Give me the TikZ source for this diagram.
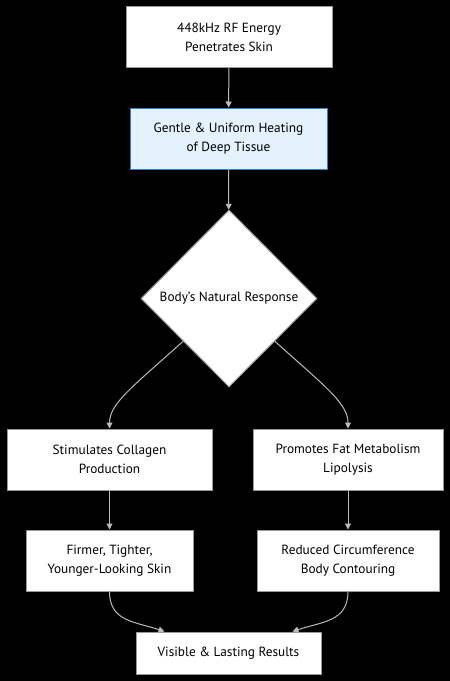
\documentclass[tikz,border=0pt]{standalone}
\usepackage{fontspec}
\setmainfont{PT Sans}
\usetikzlibrary{shapes.geometric,arrows.meta}
\definecolor{edge}{HTML}{BBBBBB}
\definecolor{boxline}{HTML}{999999}
\definecolor{bluefill}{HTML}{E3F2FD}
\definecolor{blueline}{HTML}{2F80D0}
\begin{document}
\begin{tikzpicture}[x=1pt,y=-1pt,
  every node/.style={font=\fontsize{13.3}{19}\selectfont, align=center, inner sep=0pt},
  box/.style={draw=boxline, fill=white, line width=1pt, minimum height=#1},
  box/.default=61,
  conn/.style={draw=edge, line width=1pt, -{Triangle[length=6pt,width=6pt]}}]
\fill[black] (0,0) rectangle (450,681);
\node[box, minimum width=206] (a) at (229,37) {448kHz RF Energy\\Penetrates Skin};
\node[box, fill=bluefill, draw=blueline, minimum width=197] (b) at (228.5,138.5) {Gentle \& Uniform Heating\\of Deep Tissue};
\node[draw=boxline, fill=white, line width=1pt, diamond, minimum width=176, minimum height=177] (c) at (229,298.5) {Body's Natural Response};
\node[box, minimum width=205] (d) at (109.5,459.5) {Stimulates Collagen\\Production};
\node[box, minimum width=190] (e) at (348,459.5) {Promotes Fat Metabolism\\Lipolysis};
\node[box, minimum width=167] (f) at (109.5,560.5) {Firmer, Tighter,\\Younger-Looking Skin};
\node[box, minimum width=182] (g) at (348,560.5) {Reduced Circumference\\Body Contouring};
\node[box=42, minimum width=185] (h) at (228.5,653) {Visible \& Lasting Results};
\draw[conn] (a) -- (b);
\draw[conn] (b) -- (c);
\draw[conn] (c.223) .. controls +(-50,45) and +(0,-25) .. (d.north);
\draw[conn] (c.317) .. controls +(50,45) and +(0,-25) .. (e.north);
\draw[conn] (d) -- (f);
\draw[conn] (e) -- (g);
\draw[conn] (f.south) .. controls +(0,30) and +(-30,-10) .. ([xshift=-64pt]h.north);
\draw[conn] (g.south) .. controls +(0,30) and +(30,-10) .. ([xshift=64pt]h.north);
\end{tikzpicture}
\end{document}
